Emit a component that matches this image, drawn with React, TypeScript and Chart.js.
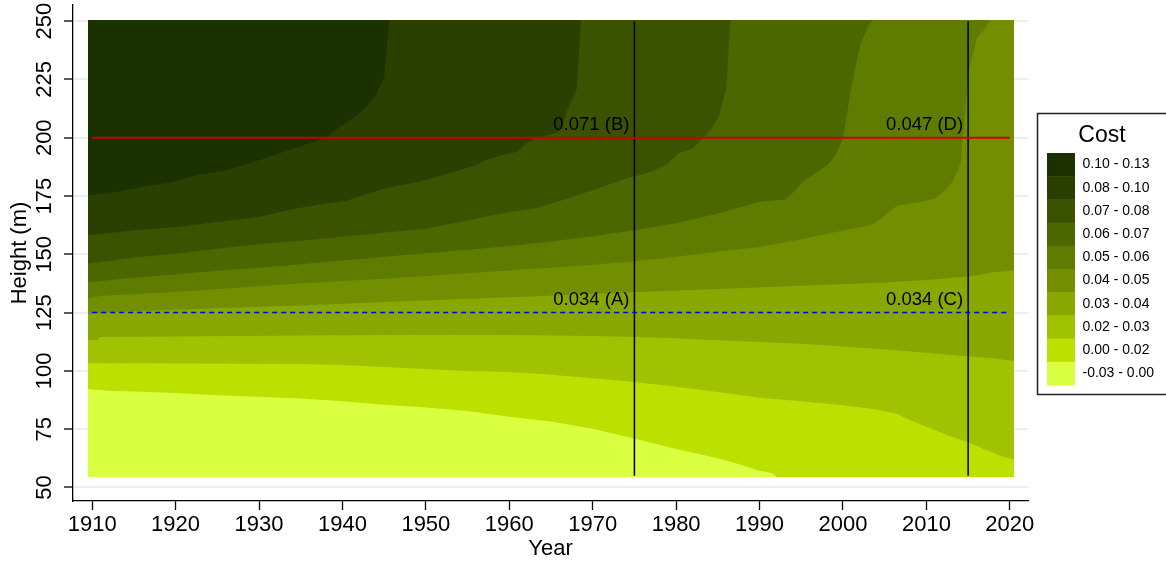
import React, { useEffect, useRef } from "react";
import { Chart, registerables } from "chart.js";

Chart.register(...registerables);

const FONT = "'Liberation Sans', Arial, Helvetica, sans-serif";

// Axis ticks
const xTickValues = [1910, 1920, 1930, 1940, 1950, 1960, 1970, 1980, 1990, 2000, 2010, 2020];
const yTickValues = [50, 75, 100, 125, 150, 175, 200, 225, 250];

// Legend (dark to light)
const legendLabels = [
  "0.10 - 0.13",
  "0.08 - 0.10",
  "0.07 - 0.08",
  "0.06 - 0.07",
  "0.05 - 0.06",
  "0.04 - 0.05",
  "0.03 - 0.04",
  "0.02 - 0.03",
  "0.00 - 0.02",
  "-0.03 - 0.00",
];
const bandColors = [
  "#1b3100",
  "#294000",
  "#3b5300",
  "#4b6700",
  "#5f7c00",
  "#738f00",
  "#88a700",
  "#a1c200",
  "#bce000",
  "#d9ff40",
];

// Contour boundaries: [year, height] where cost crosses each level
const bound000: [number, number][] = [
  [1909.5, 92.2], [1912, 91.5], [1915, 91.2], [1920, 90.5], [1925, 89.6], [1930, 88.9],
  [1935, 88.2], [1940, 87.0], [1945, 85.5], [1950, 84.3], [1955, 82.8], [1960, 80.3],
  [1965, 78.3], [1970, 75.2], [1975, 71.0], [1980, 66.5], [1985, 62.5], [1988, 59.5],
  [1990, 57.2], [1991.5, 56.2], [1992, 54.5], [2020.5, 54.5],
];
const bound002: [number, number][] = [
  [1909.5, 103.3], [1920, 103.2], [1935, 103.0], [1940, 102.5], [1945, 101.7], [1950, 100.8],
  [1955, 100.0], [1960, 99.5], [1965, 98.3], [1970, 96.9], [1975, 95.2], [1980, 93.2],
  [1985, 91.0], [1990, 88.5], [1995, 87.0], [2000, 85.3], [2004, 83.5], [2006.5, 81.5],
  [2008, 79.0], [2010, 76.0], [2013, 71.8], [2015, 69.4], [2017, 66.3], [2018, 65.0],
  [2019, 63.4], [2020.5, 62.0],
];
const bound003: [number, number][] = [
  [1909.5, 113.3], [1910.6, 113.3], [1911, 114.5], [1920, 114.8], [1935, 115.2], [1950, 115.5],
  [1960, 115.4], [1970, 115.0], [1975, 114.5], [1980, 114.0], [1985, 113.2], [1990, 112.4],
  [1995, 111.6], [2000, 110.5], [2005, 109.2], [2010, 107.8], [2015, 106.2], [2018, 105.4],
  [2020.5, 104.2],
];
const bound004: [number, number][] = [
  [1909.5, 124.4], [1912, 125.2], [1920, 126.2], [1930, 127.5], [1935, 128.1], [1945, 129.6],
  [1960, 131.6], [1975, 133.7], [1985, 135.1], [1995, 136.5], [2005, 137.9], [2010, 139.0],
  [2015, 140.5], [2018, 142.3], [2020.5, 143.1],
];
const bound005: [number, number][] = [
  [1909.5, 131.1], [1911, 132.1], [1920, 133.8], [1930, 136.3], [1935, 137.6], [1945, 139.5],
  [1960, 143.1], [1970, 145.5], [1975, 147.0], [1980, 149.0], [1985, 151.2], [1990, 153.1],
  [1995, 156.5], [2000, 160.2], [2003.5, 162.6], [2005, 166.5], [2006.5, 170.9], [2009.5, 172.5],
  [2011.1, 174.0], [2012.1, 177.0], [2013.1, 181.0], [2014.1, 189.0], [2015.1, 229.0],
  [2016.1, 243.0], [2017.1, 247.0], [2017.6, 250.5], [2020.5, 250.5],
];
const bound006: [number, number][] = [
  [1909.5, 138.0], [1915, 140.0], [1920, 141.5], [1925, 143.0], [1930, 144.2], [1935, 145.7],
  [1940, 147.3], [1945, 149.0], [1950, 150.5], [1955, 152.0], [1960, 153.6], [1965, 155.5],
  [1970, 157.8], [1975, 160.3], [1980, 163.3], [1985, 167.5], [1990, 172.5], [1993.1, 173.5],
  [1994.1, 176.7], [1995.1, 181.0], [1996.6, 184.6], [1998.1, 188.2], [1999.1, 192.5],
  [2000.0, 199.7], [2001.0, 221.8], [2002.1, 240.4], [2003.1, 248.3], [2003.6, 250.5],
  [2020.5, 250.5],
];
const bound007: [number, number][] = [
  [1909.5, 146.1], [1912, 147.1], [1915, 148.6], [1920, 150.3], [1925, 152.4], [1930, 154.3],
  [1935, 155.8], [1940, 157.5], [1944, 158.9], [1950, 161.0], [1956, 165.3], [1960, 168.2],
  [1963, 169.6], [1967, 173.9], [1970, 177.5], [1974, 182.5], [1977, 185.3], [1979, 188.9],
  [1980.2, 193.2], [1982, 195.4], [1983.1, 199.6], [1984.1, 203.2], [1985.1, 208.9],
  [1986, 221.0], [1986.5, 250.5], [2020.5, 250.5],
];
const bound008: [number, number][] = [
  [1909.5, 158.3], [1912, 159.0], [1915, 160.3], [1920, 161.7], [1925, 163.9], [1930, 166.0],
  [1934, 169.3], [1937.5, 171.6], [1940.5, 173.0], [1945, 178.2], [1949, 181.0], [1952, 183.9],
  [1956, 188.2], [1957.2, 190.3], [1959, 192.5], [1961, 194.0], [1962, 197.5], [1963, 199.6],
  [1966, 202.5], [1967.1, 213.2], [1968.1, 221.0], [1968.6, 250.5], [2020.5, 250.5],
];
const bound010: [number, number][] = [
  [1909.5, 175.3], [1913, 176.7], [1916, 178.9], [1919, 180.6], [1923, 184.3], [1926, 186.0],
  [1930, 190.3], [1933, 194.0], [1936, 197.5], [1938, 200.1], [1940, 205.4], [1942, 210.4],
  [1943, 214.0], [1944, 218.3], [1945, 226.0], [1945.6, 250.5], [2020.5, 250.5],
];
const topEdge: [number, number][] = [[1909.5, 250.5], [2020.5, 250.5]];
const bottomEdge = 54.5;

// Reference lines and point labels
const refHeights = [200, 125];
const refYears = [1975, 2015];
const pointLabels = [
  { x: 1975, y: 200, text: "0.071 (B)" },
  { x: 2015, y: 200, text: "0.047 (D)" },
  { x: 1975, y: 125, text: "0.034 (A)" },
  { x: 2015, y: 125, text: "0.034 (C)" },
];

// light -> dark band tops
const bandTops = [bound000, bound002, bound003, bound004, bound005, bound006, bound007, bound008, bound010, topEdge];

const overlayPlugin = {
  id: "overlayPlugin",
  afterDatasetsDraw(chart: any) {
    const { ctx, scales } = chart;
    const xs = scales.x;
    const ys = scales.y;
    ctx.save();
    ctx.fillStyle = "#000";
    ctx.font = `18.5px ${FONT}`;
    ctx.textAlign = "right";
    ctx.textBaseline = "alphabetic";
    pointLabels.forEach((p) => {
      ctx.fillText(p.text, xs.getPixelForValue(p.x) - 5, ys.getPixelForValue(p.y) - 8);
    });
    ctx.restore();
  },
  afterDraw(chart: any) {
    const { ctx, scales } = chart;
    const ys = scales.y;
    ctx.save();
    ctx.fillStyle = "#000";
    ctx.font = `22px ${FONT}`;
    ctx.textAlign = "center";
    ctx.textBaseline = "middle";
    yTickValues.forEach((v) => {
      ctx.save();
      ctx.translate(45, ys.getPixelForValue(v));
      ctx.rotate(-Math.PI / 2);
      ctx.fillText(String(v), 0, 0);
      ctx.restore();
    });
    // legend
    const bx = 1037.5, by = 113.5, bw = 200, bh = 281;
    ctx.fillStyle = "#fff";
    ctx.fillRect(bx, by, bw, bh);
    ctx.strokeStyle = "#222";
    ctx.lineWidth = 1.5;
    ctx.strokeRect(bx, by, bw, bh);
    ctx.fillStyle = "#000";
    ctx.font = `23px ${FONT}`;
    ctx.textAlign = "center";
    ctx.textBaseline = "alphabetic";
    ctx.fillText("Cost", 1102, 141.5);
    const sx = 1047, sw = 28, sy = 153, sh = 23.2;
    legendLabels.forEach((lab, i) => {
      ctx.fillStyle = bandColors[i];
      ctx.fillRect(sx, sy + i * sh, sw, sh + 0.5);
      ctx.fillStyle = "#000";
      ctx.font = `14px ${FONT}`;
      ctx.textAlign = "left";
      ctx.textBaseline = "middle";
      ctx.fillText(lab, 1082.5, sy + i * sh + sh / 2);
    });
    ctx.restore();
  },
};

export default function App() {
  const canvasRef = useRef<HTMLCanvasElement | null>(null);

  useEffect(() => {
    const canvas = canvasRef.current;
    if (!canvas) return;

    const bandDatasets = bandTops.map((pts, i) => ({
      type: "line" as const,
      data: pts.map(([x, y]) => ({ x, y })),
      backgroundColor: bandColors[bandColors.length - 1 - i],
      borderColor: "rgba(0,0,0,0)",
      borderWidth: 0,
      pointRadius: 0,
      tension: 0,
      fill: { value: bottomEdge },
      order: i + 1,
    }));

    const hColors = ["#cc0000", "#0000ee"];
    const hDash = [[], [5, 4]];
    const hWidths = [2, 1.5];
    const hLines = refHeights.map((h, i) => ({
      type: "line" as const,
      data: [{ x: xTickValues[0], y: h }, { x: xTickValues[xTickValues.length - 1], y: h }],
      borderColor: hColors[i],
      borderWidth: hWidths[i],
      borderDash: hDash[i],
      pointRadius: 0,
      fill: false,
      order: 0,
    }));
    const vLines = refYears.map((yr) => ({
      type: "line" as const,
      data: [{ x: yr, y: 55 }, { x: yr, y: 250 }],
      borderColor: "#000",
      borderWidth: 1.5,
      pointRadius: 0,
      fill: false,
      order: 0,
    }));

    const chart = new Chart(canvas, {
      type: "line",
      data: { datasets: [...hLines, ...vLines, ...bandDatasets] as any },
      options: {
        responsive: false,
        animation: false,
        devicePixelRatio: 1,
        layout: { padding: { left: 0, right: 138, top: 5, bottom: 0 } },
        plugins: {
          legend: { display: false },
          tooltip: { enabled: false },
        },
        events: [],
        scales: {
          x: {
            type: "linear",
            position: "bottom",
            min: 1907.702,
            max: 2022.178,
            afterBuildTicks: (s: any) => {
              s.ticks = xTickValues.map((v) => ({ value: v }));
            },
            afterFit: (s: any) => {
              s.height = 62;
            },
            ticks: {
              autoSkip: false,
              maxRotation: 0,
              minRotation: 0,
              padding: 1.5,
              color: "#000",
              font: { size: 22, family: FONT },
              callback: (v: any) => String(v),
            },
            grid: {
              drawOnChartArea: false,
              drawTicks: true,
              tickLength: 9,
              tickColor: "#000",
              tickWidth: 1.3,
            },
            border: { display: true, color: "#000", width: 1.3 },
            title: {
              display: true,
              text: "Year",
              color: "#000",
              font: { size: 22, family: FONT },
              padding: { top: 0, bottom: 1 },
            },
          },
          y: {
            type: "linear",
            min: 44.207,
            max: 256.933,
            afterBuildTicks: (s: any) => {
              s.ticks = yTickValues.map((v) => ({ value: v }));
            },
            afterFit: (s: any) => {
              s.width = 73;
            },
            ticks: { display: false },
            grid: {
              drawOnChartArea: true,
              color: "#e9eff3",
              lineWidth: 2,
              drawTicks: true,
              tickLength: 9,
              tickColor: "#000",
              tickWidth: 1.3,
            },
            border: { display: true, color: "#000", width: 1.3 },
            title: {
              display: true,
              text: "Height (m)",
              color: "#000",
              font: { size: 22, family: FONT },
              padding: { top: 7, bottom: 0 },
            },
          },
        },
      },
      plugins: [overlayPlugin],
    });

    return () => {
      chart.destroy();
    };
  }, []);

  return (
    <div style={{ position: "absolute", left: 0, top: 0, width: 1166, height: 563, background: "#fff" }}>
      <canvas ref={canvasRef} width={1166} height={563} style={{ width: 1166, height: 563, display: "block" }} />
    </div>
  );
}
